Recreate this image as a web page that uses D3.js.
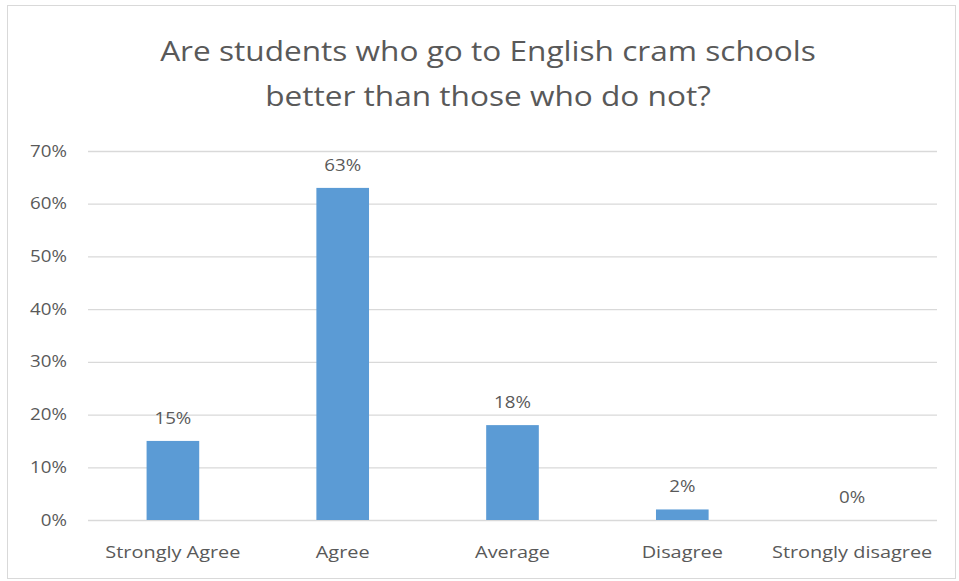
<!DOCTYPE html>
<html>
<head>
<meta charset="utf-8">
<script src="https://cdn.jsdelivr.net/npm/d3@7"></script>
<style>
  html, body { margin: 0; padding: 0; background: #fff; }
  svg { display: block; }
</style>
</head>
<body>
<svg id="chart" width="959" height="581"></svg>
<script>
// Survey responses
const categories = ["Strongly Agree", "Agree", "Average", "Disagree", "Strongly disagree"];
const shares = [0.15, 0.63, 0.18, 0.02, 0.00];
const yTicks = [0, 0.1, 0.2, 0.3, 0.4, 0.5, 0.6, 0.7];
const titleLines = ["Are students who go to English cram schools", "better than those who do not?"];

const svg = d3.select("#chart");
const font = "'Open Sans', 'Liberation Sans', sans-serif";
const textColor = "#595959";
const widen = 1.17;   // text is set slightly wide

// stretch a text selection horizontally by the widen factor
function stretch(sel) {
  sel.each(function () {
    const w = this.getComputedTextLength();
    d3.select(this)
      .attr("textLength", w * widen)
      .attr("lengthAdjust", "spacingAndGlyphs");
  });
}

// Chart frame
svg.append("rect")
  .attr("x", 7.5).attr("y", 5.5)
  .attr("width", 948).attr("height", 573)
  .attr("fill", "#fff")
  .attr("stroke", "#d9d9d9").attr("stroke-width", 1);

const plot = { left: 88, right: 937, top: 151, bottom: 520 };

const x = d3.scaleBand()
  .domain(categories)
  .range([plot.left, plot.right])
  .paddingInner(0.69)
  .paddingOuter(0.345);

const y = d3.scaleLinear()
  .domain([0, 0.7])
  .range([plot.bottom, plot.top]);

// Title
svg.append("g").selectAll("text")
  .data(titleLines)
  .join("text")
  .attr("x", 488)
  .attr("y", (d, i) => 61 + i * 45)
  .attr("text-anchor", "middle")
  .attr("font-family", font)
  .attr("font-size", 27)
  .attr("fill", textColor)
  .text(d => d)
  .call(stretch);

// Gridlines and y labels
const yAxis = d3.axisLeft(y)
  .tickValues(yTicks)
  .tickFormat(d3.format(".0%"))
  .tickSize(-(plot.right - plot.left))
  .tickPadding(21);

const gy = svg.append("g")
  .attr("transform", `translate(${plot.left},0)`)
  .call(yAxis);
gy.select(".domain").remove();
gy.selectAll(".tick line").attr("stroke", "#d9d9d9").attr("stroke-width", 1.3);
gy.selectAll(".tick text")
  .attr("font-family", font)
  .attr("font-size", 16)
  .attr("fill", textColor)
  .call(stretch);

// Bars
const rows = categories.map((c, i) => ({ c, v: shares[i] }));
svg.append("g").selectAll("rect")
  .data(rows)
  .join("rect")
  .attr("x", d => x(d.c))
  .attr("width", x.bandwidth())
  .attr("y", d => y(d.v))
  .attr("height", d => y(0) - y(d.v))
  .attr("fill", "#5b9bd5");

// Value labels
svg.append("g").selectAll("text")
  .data(rows)
  .join("text")
  .attr("x", d => x(d.c) + x.bandwidth() / 2)
  .attr("y", d => y(d.v) - 17)
  .attr("text-anchor", "middle")
  .attr("font-family", font)
  .attr("font-size", 16)
  .attr("fill", textColor)
  .text(d => d3.format(".0%")(d.v))
  .call(stretch);

// Category axis
const xAxis = d3.axisBottom(x).tickSize(0).tickPadding(0);
const gx = svg.append("g")
  .attr("transform", `translate(0,${plot.bottom})`)
  .call(xAxis);
gx.select(".domain").remove();
gx.selectAll(".tick text")
  .attr("y", 38)
  .attr("dy", null)
  .attr("font-family", font)
  .attr("font-size", 17)
  .attr("fill", textColor)
  .call(stretch);
</script>
</body>
</html>
